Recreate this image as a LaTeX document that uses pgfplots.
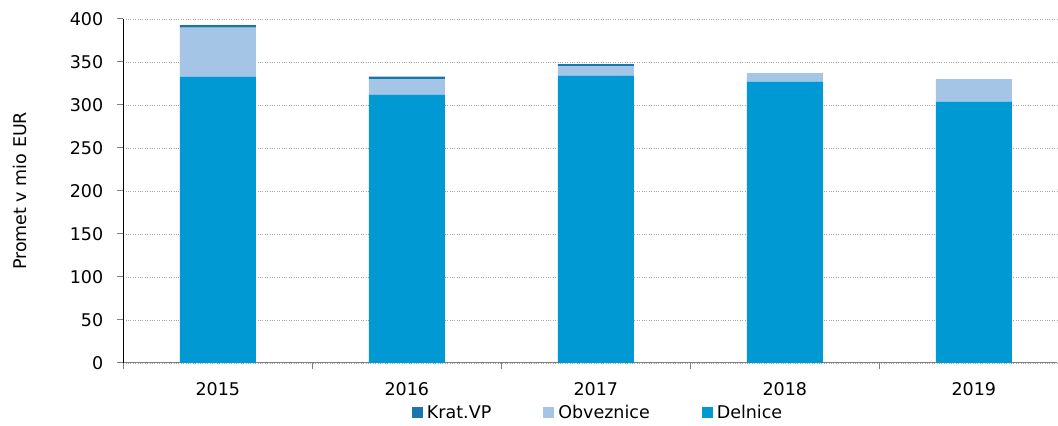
\documentclass[border=0pt]{standalone}
\usepackage{pgfplots}
\pgfplotsset{compat=1.18}
\usepackage{fontspec}
\setmainfont{DejaVu Sans}
\definecolor{delnice}{RGB}{0,153,211}
\definecolor{obveznice}{RGB}{164,197,230}
\definecolor{kratvp}{RGB}{24,118,170}
\definecolor{axgray}{RGB}{128,128,128}
\begin{document}
\begin{tikzpicture}
\begin{axis}[
  name=ax,
  scale only axis,
  width=934pt, height=344pt,
  ybar stacked,
  bar width=76pt,
  xmin=-0.5, xmax=4.44,
  ymin=0, ymax=400,
  ytick={0,50,...,400},
  xtick={-0.5,0.5,1.5,2.5,3.5},
  xticklabels={},
  extra x ticks={0,1,2,3,4},
  extra x tick labels={2015,2016,2017,2018,2019},
  extra x tick style={major tick length=0pt, grid=none},
  tick align=outside,
  major tick length=6.5pt,
  xtick style={axgray, line width=0.8pt},
  ytick style={axgray, line width=1pt, solid},
  axis lines*=left,
  x axis line style={axgray, line width=1pt},
  y axis line style={black, line width=0.8pt},
  ymajorgrids,
  grid style={axgray!70, dotted, line width=0.7pt},
  font=\fontsize{17.5}{20}\selectfont,
  tick label style={font=\fontsize{17.5}{20}\selectfont},
  yticklabel style={xshift=-10pt},
  xticklabel style={yshift=-16pt},
  /pgf/number format/assume math mode=true,
  ylabel={Promet v mio EUR},
  ylabel style={at={([xshift=-103pt]axis description cs:0,0.5)}, anchor=center},
  legend columns=3,
  reverse legend,
  legend style={at={(rel axis cs:0.309,0)}, anchor=north west, yshift=-40pt,
    draw=none, fill=none, inner sep=0pt, font=\fontsize{17.5}{20}\selectfont,
    nodes={inner xsep=4pt},
    /tikz/every even column/.append style={column sep=48pt}},
  legend image code/.code={\fill[#1] (0pt,-5.5pt) rectangle (11pt,5.5pt);},
]
\addplot[fill=delnice, draw=none] coordinates {(0,333) (1,312) (2,334) (3,327) (4,304)};
\addlegendentry{Delnice}
\addplot[fill=obveznice, draw=none] coordinates {(0,57) (1,18) (2,11) (3,10) (4,26)};
\addlegendentry{Obveznice}
\addplot[fill=kratvp, draw=none] coordinates {(0,3) (1,3) (2,2.5) (3,0) (4,0)};
\addlegendentry{Krat.VP}
\end{axis}
% overlay axis: short grey y tick marks left of the spine
\begin{axis}[
  scale only axis,
  width=934pt, height=344pt,
  xmin=-0.5, xmax=4.44,
  ymin=0, ymax=400,
  hide axis,
  clip=false,
  unbounded coords=jump,
]
\addplot[axgray, line width=1pt, no markers] coordinates {
  (-0.533,0) (-0.5,0) (nan,nan)
  (-0.533,50) (-0.5,50) (nan,nan)
  (-0.533,100) (-0.5,100) (nan,nan)
  (-0.533,150) (-0.5,150) (nan,nan)
  (-0.533,200) (-0.5,200) (nan,nan)
  (-0.533,250) (-0.5,250) (nan,nan)
  (-0.533,300) (-0.5,300) (nan,nan)
  (-0.533,350) (-0.5,350) (nan,nan)
  (-0.533,400) (-0.5,400)
};
\end{axis}
\pgfresetboundingbox
\path[use as bounding box] ([xshift=-123.3pt,yshift=-63pt]ax.south west) rectangle ([xshift=1pt,yshift=19pt]ax.north east);
\end{tikzpicture}
\end{document}
